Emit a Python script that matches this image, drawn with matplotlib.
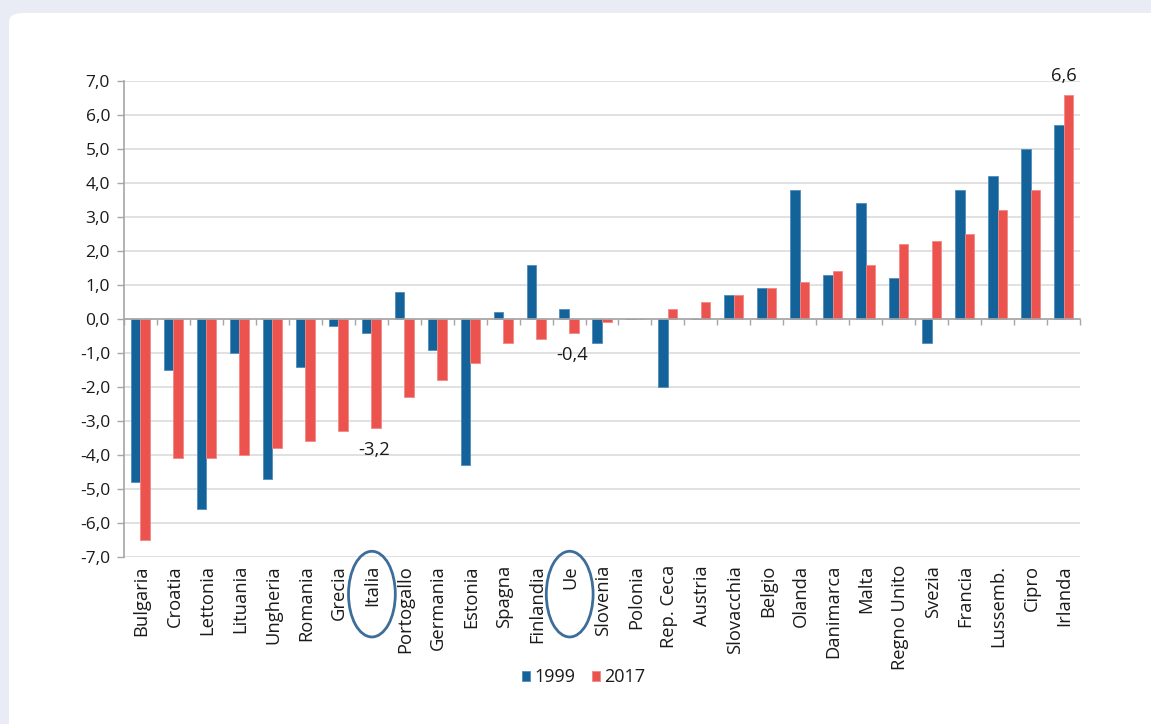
import matplotlib
matplotlib.use("Agg")
import matplotlib.pyplot as plt
import matplotlib.transforms as mtransforms
from matplotlib.patches import Ellipse, FancyBboxPatch
import numpy as np

countries = ["Bulgaria", "Croatia", "Lettonia", "Lituania", "Ungheria", "Romania",
             "Grecia", "Italia", "Portogallo", "Germania", "Estonia", "Spagna",
             "Finlandia", "Ue", "Slovenia", "Polonia", "Rep. Ceca", "Austria",
             "Slovacchia", "Belgio", "Olanda", "Danimarca", "Malta", "Regno Unito",
             "Svezia", "Francia", "Lussemb.", "Cipro", "Irlanda"]
v1999 = [-4.8, -1.5, -5.6, -1.0, -4.7, -1.4, -0.2, -0.4, 0.8, -0.9, -4.3, 0.2,
         1.6, 0.3, -0.7, 0.0, -2.0, 0.0, 0.7, 0.9, 3.8, 1.3, 3.4, 1.2, -0.7,
         3.8, 4.2, 5.0, 5.7]
v2017 = [-6.5, -4.1, -4.1, -4.0, -3.8, -3.6, -3.3, -3.2, -2.3, -1.8, -1.3, -0.7,
         -0.6, -0.4, -0.1, 0.0, 0.3, 0.5, 0.7, 0.9, 1.1, 1.4, 1.6, 2.2, 2.3,
         2.5, 3.2, 3.8, 6.6]
series_labels = ["1999", "2017"]
yticks = [-7, -6, -5, -4, -3, -2, -1, 0, 1, 2, 3, 4, 5, 6, 7]
annotated = {"Italia": 1, "Ue": 1, "Irlanda": 1}   # series index to annotate
circled = ["Italia", "Ue"]

plt.rcParams['font.family'] = ['Open Sans', 'DejaVu Sans']

BLUE = "#14629a"
RED = "#ec524e"
TXT = "#1a1a1a"
FS = 12.5
FSX = 13.2

fig = plt.figure(figsize=(11.51, 7.24), dpi=100, facecolor="#e9ecf4")
card = FancyBboxPatch((9/1151, -0.05), 1.2, 1 - 13/724 + 0.05,
                      boxstyle="round,pad=0,rounding_size=0.012",
                      transform=fig.transFigure, facecolor="white",
                      edgecolor="none", zorder=-10)
fig.patches.append(card)

ax = fig.add_axes([124/1151, 1 - 557/724, (1080 - 124)/1151, (557 - 81)/724])
ax.set_facecolor("none")
ax.set_zorder(1)

n = len(countries)
x = np.arange(n)
w = 0.29
ax.bar(x - w/2, v1999, w, color=BLUE, edgecolor="#4f8dbb", linewidth=0.6,
       label=series_labels[0], zorder=3)
ax.bar(x + w/2, v2017, w, color=RED, edgecolor="#f08a86", linewidth=0.6,
       label=series_labels[1], zorder=3)

ax.set_xlim(-0.5, n - 0.5)
ax.set_ylim(-7, 7)
ax.set_yticks(yticks)
ax.set_yticklabels([f"{t:.1f}".replace(".", ",") for t in yticks],
                   fontsize=FS, color=TXT)
ax.yaxis.grid(True, color="#dcdcdc", linewidth=1.2, zorder=0)
ax.tick_params(axis="y", length=5, width=1, color="#a6a6a6", pad=5)

for s in ["top", "right"]:
    ax.spines[s].set_visible(False)
ax.spines["left"].set_color("#a6a6a6")
ax.spines["left"].set_linewidth(1.2)
ax.spines["bottom"].set_position(("data", 0))
ax.spines["bottom"].set_color("#a6a6a6")
ax.spines["bottom"].set_linewidth(1.2)
ax.spines["bottom"].set_zorder(4)
ax.set_xticks(np.arange(n + 1) - 0.5)
ax.set_xticklabels([])
ax.tick_params(axis="x", length=4, width=1, color="#a6a6a6", direction="out")

trans = mtransforms.blended_transform_factory(ax.transData, ax.transAxes)
for i, c in enumerate(countries):
    ax.text(i + 0.03, -0.017, c, rotation=90, ha="center", va="top", fontsize=FSX,
            color=TXT, transform=trans, rotation_mode="default")

series = [v1999, v2017]
offs = [-w/2, w/2]
for c, si in annotated.items():
    i = countries.index(c)
    val = series[si][i]
    lab = f"{val:.1f}".replace(".", ",")
    if val >= 0:
        ax.text(i + offs[si] - 0.12, val + 0.28, lab, ha="center", va="bottom",
                fontsize=FSX, color=TXT)
    else:
        ax.text(i + offs[si] - 0.05, val - 0.4, lab, ha="center", va="top",
                fontsize=FSX, color=TXT)

for c in circled:
    i = countries.index(c)
    e = Ellipse((i + 0.02, -0.078), 1.42, 0.18, transform=trans, fill=False,
                edgecolor="#3d6d99", linewidth=2, clip_on=False, zorder=5)
    ax.add_patch(e)

leg = ax.legend(loc="upper center", bbox_to_anchor=(0.481, -0.2), ncol=2,
                frameon=False, fontsize=13, handlelength=0.45, handleheight=0.45,
                handletextpad=0.25, columnspacing=0.9)
for t in leg.get_texts():
    t.set_color(TXT)

fig.savefig("out.png", dpi=100, facecolor=fig.get_facecolor())
